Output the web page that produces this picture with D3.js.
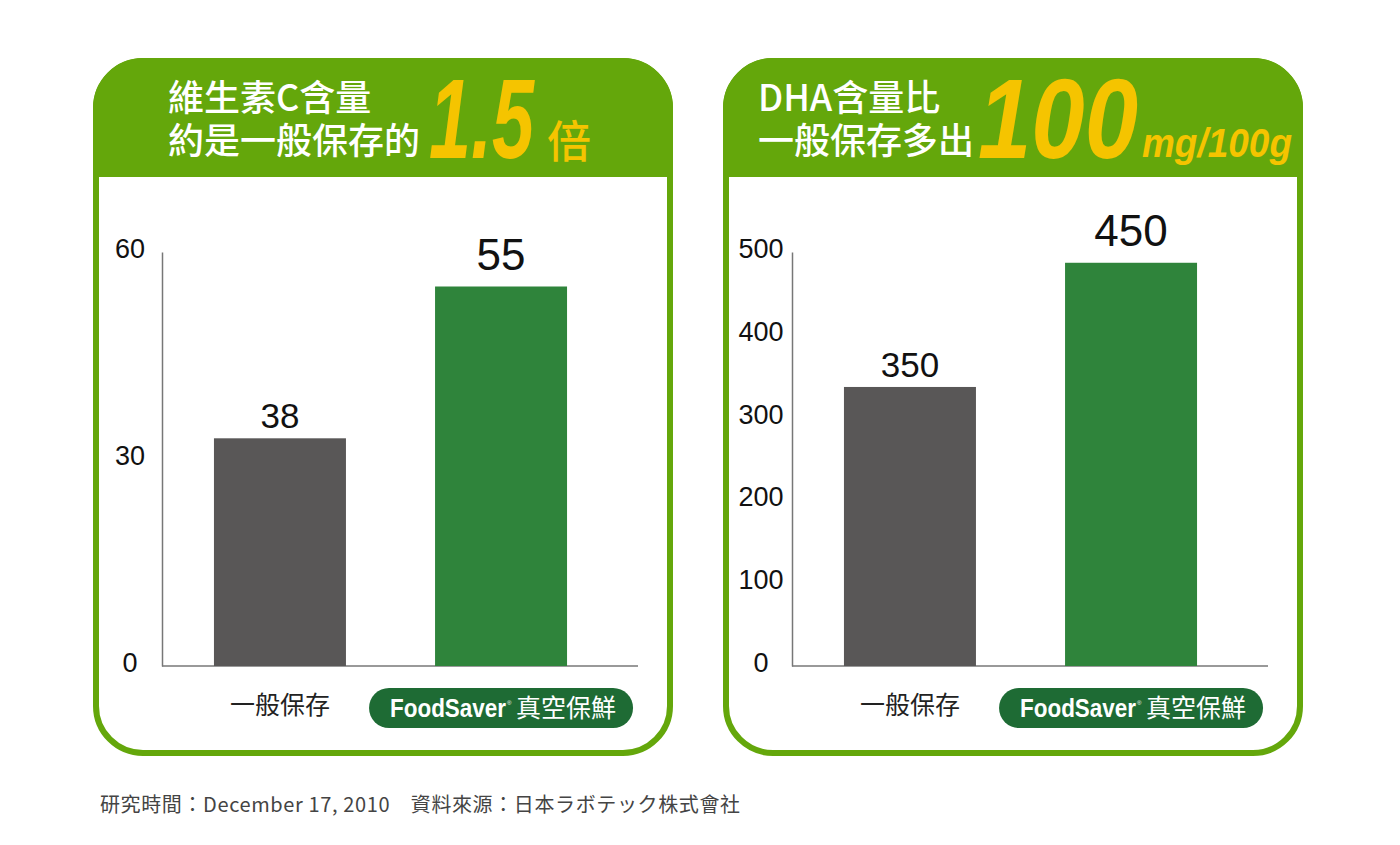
<!DOCTYPE html>
<html>
<head>
<meta charset="utf-8">
<script src="https://cdn.jsdelivr.net/npm/d3@7"></script>
<style>
  html, body { margin: 0; padding: 0; background: #ffffff; }
  svg { display: block; }
</style>
</head>
<body>
<svg id="chart" width="1400" height="845"></svg>
<script>
// ---------- data ----------
const categories = ["一般保存", "FoodSaver真空保鮮"];
// bar heights as drawn in the picture
const vitaminCBars = [33, 55];
const dhaBars = [337, 487];
// value labels as printed above the bars
const vitaminCLabels = ["38", "55"];
const dhaLabels = ["350", "450"];
// axis ticks
const vitaminCTicks = [0, 30, 60];
const dhaTicks = [0, 100, 200, 300, 400, 500];
const vitaminCDomain = [0, 60];
const dhaDomain = [0, 500];
// header texts
const vitaminCTitle = ["維生素C含量", "約是一般保存的"];
const vitaminCHighlight = ["1.5", "倍"];
const dhaTitle = ["DHA含量比", "一般保存多出"];
const dhaHighlight = ["100", "mg/100g"];
const footerText = "研究時間：December 17, 2010　資料來源：日本ラボテック株式會社";

// ---------- style ----------
const GREEN = "#64a70b";
const YELLOW = "#f5c400";
const GRAY_BAR = "#595757";
const GREEN_BAR = "#2f843b";
const PILL = "#1e6b34";
const CJK = "'Noto Sans CJK TC', 'Noto Sans CJK SC', sans-serif";
const LATIN = "'Liberation Sans', Arial, sans-serif";

const svg = d3.select("#chart");

function panel(opts) {
  const g = svg.append("g");
  const x0 = opts.x0, w = 580, top = 58, bottom = 756, r = 50;
  // white body with green border
  g.append("rect")
    .attr("x", x0 + 3).attr("y", top + 3)
    .attr("width", w - 6).attr("height", bottom - top - 6)
    .attr("rx", r - 3).attr("ry", r - 3)
    .attr("fill", "#fff").attr("stroke", GREEN).attr("stroke-width", 6);
  // green header with rounded top corners
  const hb = 177;
  g.append("path")
    .attr("d", `M${x0},${hb} V${top + r} A${r},${r} 0 0 1 ${x0 + r},${top} H${x0 + w - r} A${r},${r} 0 0 1 ${x0 + w},${top + r} V${hb} Z`)
    .attr("fill", GREEN);

  // header texts
  const tx = opts.titleX;
  g.append("text").attr("x", tx).attr("y", 111)
    .attr("font-family", CJK).attr("font-size", 36).attr("font-weight", 500)
    .attr("fill", "#fff").text(opts.title[0]);
  g.append("text").attr("x", tx).attr("y", 154)
    .attr("font-family", CJK).attr("font-size", 36).attr("font-weight", 500)
    .attr("fill", "#fff").text(opts.title[1]);
  opts.highlight(g);

  // scales
  const axisX = x0 + 69;
  const y = d3.scaleLinear().domain(opts.domain).range([666, 252]);
  const x = d3.scaleBand().domain(categories)
    .range([axisX, axisX + 457]).paddingInner(0.403).paddingOuter(0.235);

  // y axis
  const ax = g.append("g").attr("transform", `translate(${axisX},0)`)
    .call(d3.axisLeft(y).tickValues(opts.ticks).tickSize(0).tickSizeOuter(0).tickFormat(d3.format("d")));
  ax.select(".domain").attr("stroke", "#777").attr("stroke-width", 1.5);
  ax.selectAll("text")
    .attr("x", opts.tickOffset).attr("dy", "0.2em")
    .attr("text-anchor", "middle")
    .attr("font-family", LATIN).attr("font-size", 27).attr("fill", "#111");

  // baseline
  g.append("line")
    .attr("x1", axisX).attr("x2", axisX + 476)
    .attr("y1", y(0)).attr("y2", y(0))
    .attr("stroke", "#777").attr("stroke-width", 1.5);

  // bars
  g.selectAll("rect.bar").data(opts.values).join("rect").attr("class", "bar")
    .attr("x", (d, i) => x(categories[i]))
    .attr("width", x.bandwidth())
    .attr("y", d => y(d))
    .attr("height", d => y(0) - y(d))
    .attr("fill", (d, i) => i === 0 ? GRAY_BAR : GREEN_BAR);

  // value labels
  g.selectAll("text.val").data(opts.values).join("text").attr("class", "val")
    .attr("x", (d, i) => x(categories[i]) + x.bandwidth() / 2)
    .attr("y", (d, i) => y(d) - (i === 0 ? 10 : 17))
    .attr("text-anchor", "middle")
    .attr("font-family", LATIN)
    .attr("font-size", (d, i) => i === 0 ? 35 : 44)
    .attr("fill", "#111")
    .text((d, i) => opts.labels[i]);

  // category labels
  const c0 = x(categories[0]) + x.bandwidth() / 2;
  const c1 = x(categories[1]) + x.bandwidth() / 2;
  g.append("text").attr("x", c0).attr("y", 714)
    .attr("text-anchor", "middle")
    .attr("font-family", CJK).attr("font-size", 25).attr("fill", "#222")
    .text(categories[0]);
  g.append("rect")
    .attr("x", c1 - 132).attr("y", 688).attr("width", 264).attr("height", 40)
    .attr("rx", 20).attr("ry", 20).attr("fill", PILL);
  const pt = g.append("text").attr("y", 717).attr("fill", "#fff");
  pt.append("tspan").attr("x", c1 - 111)
    .attr("font-family", LATIN).attr("font-weight", "bold").attr("font-size", 25)
    .attr("textLength", 116).attr("lengthAdjust", "spacingAndGlyphs")
    .text(categories[1].slice(0, 9));
  pt.append("tspan").attr("x", c1 + 6).attr("dy", -12)
    .attr("font-family", LATIN).attr("font-size", 6).text("®");
  pt.append("tspan").attr("x", c1 + 15).attr("dy", 12)
    .attr("font-family", CJK).attr("font-size", 25)
    .text(categories[1].slice(9));
}

panel({
  x0: 93,
  titleX: 168,
  title: vitaminCTitle,
  domain: vitaminCDomain,
  ticks: vitaminCTicks,
  values: vitaminCBars,
  labels: vitaminCLabels,
  tickOffset: -32,
  highlight: g => {
    g.append("text").attr("x", 429).attr("y", 158)
      .attr("font-family", LATIN).attr("font-weight", "bold").attr("font-style", "italic")
      .attr("font-size", 114).attr("fill", YELLOW)
      .attr("textLength", 105).attr("lengthAdjust", "spacingAndGlyphs")
      .text(vitaminCHighlight[0]);
    g.append("text").attr("x", 547).attr("y", 158)
      .attr("font-family", CJK).attr("font-size", 44).attr("font-weight", 500)
      .attr("fill", YELLOW).text(vitaminCHighlight[1]);
  }
});

panel({
  x0: 723,
  titleX: 758,
  title: dhaTitle,
  domain: dhaDomain,
  ticks: dhaTicks,
  values: dhaBars,
  labels: dhaLabels,
  tickOffset: -31,
  highlight: g => {
    g.append("text").attr("x", 978).attr("y", 158)
      .attr("font-family", LATIN).attr("font-weight", "bold").attr("font-style", "italic")
      .attr("font-size", 114).attr("fill", YELLOW)
      .attr("textLength", 160).attr("lengthAdjust", "spacingAndGlyphs")
      .text(dhaHighlight[0]);
    g.append("text").attr("x", 1142).attr("y", 157)
      .attr("font-family", LATIN).attr("font-weight", "bold").attr("font-style", "italic")
      .attr("font-size", 40).attr("fill", YELLOW)
      .attr("textLength", 150).attr("lengthAdjust", "spacingAndGlyphs")
      .text(dhaHighlight[1]);
  }
});

// footer
svg.append("text").attr("x", 100).attr("y", 812)
  .attr("font-family", CJK).attr("font-size", 20)
  .attr("textLength", 640).attr("lengthAdjust", "spacing")
  .attr("fill", "#444").text(footerText);
</script>
</body>
</html>
